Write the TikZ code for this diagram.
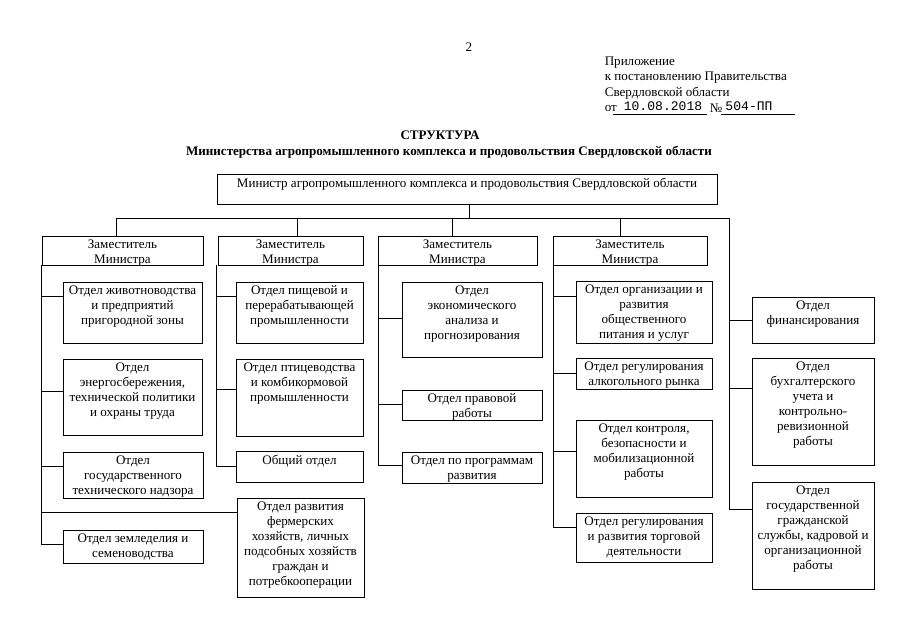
\documentclass[tikz,border=0pt]{standalone}
\usepackage{fontspec}
\setmainfont{Liberation Serif}
\newfontfamily\monofont{Liberation Mono}
\usetikzlibrary{calc, positioning, fit}

% box with its text set at the top
\newcommand{\orgbox}[6]{%
  \node[box, fit={(#2,#3) (#4,#5)}] (#1) {};
  \node[txt, below=3pt of #1.north] (#1t) {#6};}

\begin{document}
\begin{tikzpicture}[x=0.75pt, y=-0.75pt, line width=0.5pt,
  every node/.style={font=\fontsize{9.8}{11.25}\selectfont},
  box/.style={draw, inner sep=0pt},
  txt/.style={align=center, inner sep=0pt}]
  \useasboundingbox (0,0) rectangle (905,640);

  % header
  \node (pg) at (469,47) {2};
  \node[anchor=west] (app1) at (600,63) {Приложение};
  \node[anchor=west] (app2) at (600,78) {к постановлению Правительства};
  \node[anchor=west] (app3) at (600,93) {Свердловской области};
  \node[anchor=west] (app4) at (600,108) {от};
  \node (date) at (663,106) {\monofont 10.08.2018};
  \node (no) at (716,108) {№};
  \node (num) at (749,106) {\monofont 504-ПП};
  \draw (613,114) -- (707,114);
  \draw (721,114) -- (795,114);

  \node[font=\fontsize{9.8}{11.25}\selectfont\bfseries] (ttl) at (440,135) {СТРУКТУРА};
  \node[font=\fontsize{9.8}{11.25}\selectfont\bfseries] (ttl2) at (449,152)
    {Министерства агропромышленного комплекса и продовольствия Свердловской области};

  % minister and deputies
  \orgbox{min}{217}{174}{717}{204}{Министр агропромышленного комплекса и продовольствия Свердловской области}
  \orgbox{d1}{42}{236}{203}{265}{Заместитель\\Министра}
  \orgbox{d2}{218}{236}{363}{265}{Заместитель\\Министра}
  \orgbox{d3}{378}{236}{537}{265}{Заместитель\\Министра}
  \orgbox{d4}{553}{236}{707}{265}{Заместитель\\Министра}

  % first deputy
  \orgbox{a1}{63}{282}{202}{343}{Отдел животноводства\\и предприятий\\пригородной зоны}
  \orgbox{a2}{63}{359}{202}{435}{Отдел\\энергосбережения,\\технической политики\\и охраны труда}
  \orgbox{a3}{63}{452}{203}{498}{Отдел\\государственного\\технического надзора}
  \orgbox{a4}{237}{498}{364}{597}{Отдел развития\\фермерских\\хозяйств, личных\\подсобных хозяйств\\граждан и\\потребкооперации}
  \orgbox{a5}{63}{530}{203}{563}{Отдел земледелия и\\семеноводства}

  % second deputy
  \orgbox{b1}{236}{282}{363}{343}{Отдел пищевой и\\перерабатывающей\\промышленности}
  \orgbox{b2}{236}{359}{363}{436}{Отдел птицеводства\\и комбикормовой\\промышленности}
  \orgbox{b3}{236}{451}{363}{482}{Общий отдел}

  % third deputy
  \orgbox{c1}{402}{282}{542}{357}{Отдел\\экономического\\анализа и\\прогнозирования}
  \orgbox{c2}{402}{390}{542}{420}{Отдел правовой\\работы}
  \orgbox{c3}{402}{452}{542}{483}{Отдел по программам\\развития}

  % fourth deputy
  \orgbox{e1}{576}{281}{712}{343}{Отдел организации и\\развития\\общественного\\питания и услуг}
  \orgbox{e2}{576}{358}{712}{389}{Отдел регулирования\\алкогольного рынка}
  \orgbox{e3}{576}{420}{712}{497}{Отдел контроля,\\безопасности и\\мобилизационной\\работы}
  \orgbox{e4}{576}{513}{712}{562}{Отдел регулирования\\и развития торговой\\деятельности}

  % under the minister
  \orgbox{r1}{752}{297}{874}{343}{Отдел\\финансирования}
  \orgbox{r2}{752}{358}{874}{465}{Отдел\\бухгалтерского\\учета и\\контрольно-\\ревизионной\\работы}
  \orgbox{r3}{752}{482}{874}{589}{Отдел\\государственной\\гражданской\\службы, кадровой и\\организационной\\работы}

  % connectors
  \coordinate (busR) at (729,218);
  \draw ($(min.south)+(2,0)$) -- ++(0,14);
  \draw ($(d1.north)+(-6,0)$) |- (busR);
  \draw ($(d2.north)+(7,0)$) -- ++(0,-18);
  \draw ($(d3.north)+(-5,0)$) -- ++(0,-18);
  \draw ($(d4.north)+(-10,0)$) -- ++(0,-18);
  \foreach \b/\dy in {r1/24, r2/31, r3/28}
    \draw (busR) |- ($(\b.north west)+(0,\dy)$);
  \foreach \b/\dy in {a1/15, a2/33, a3/15, a4/15, a5/15}
    \draw (d1.south west) |- ($(\b.north west)+(0,\dy)$);
  \foreach \b/\dy in {b1/15, b2/31, b3/16}
    \draw ($(d2.south west)+(-1,0)$) |- ($(\b.north west)+(0,\dy)$);
  \foreach \b/\dy in {c1/37, c2/15, c3/14}
    \draw ($(d3.south west)+(1,0)$) |- ($(\b.north west)+(0,\dy)$);
  \foreach \b/\dy in {e1/16, e2/16, e3/32, e4/15}
    \draw ($(d4.south west)+(1,0)$) |- ($(\b.north west)+(0,\dy)$);
\end{tikzpicture}
\end{document}
